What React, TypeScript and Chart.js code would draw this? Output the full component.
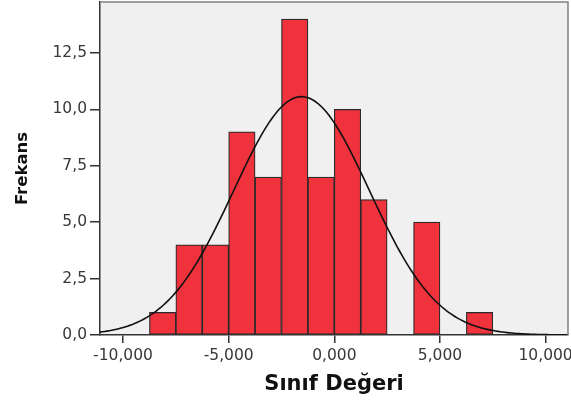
import React, { useEffect, useRef } from "react";
import { Chart, registerables } from "chart.js";

Chart.register(...registerables);

// Histogram bins (left edges) and frequencies
const binStarts = [-8.75, -7.5, -6.25, -5.0, -3.75, -2.5, -1.25, 0.0, 1.25, 2.5, 3.75, 5.0, 6.25];
const binWidth = 1.25;
const counts = [1, 4, 4, 9, 7, 14, 7, 10, 6, 0, 5, 0, 1];

// Normal curve fit parameters
const curveMean = -1.55;
const curveSd = 3.21;

// Axis ticks
const xTicks = [-10, -5, 0, 5, 10];
const yTicks = [0, 2.5, 5, 7.5, 10, 12.5];
const xMin = -11.09;
const xMax = 11.06;
const yMax = 14.76;

const xTitle = "Sınıf Değeri";
const yTitle = "Frekans";

const areaPlugin = {
  id: "areaPlugin",
  beforeDraw(chart: any) {
    const { ctx, chartArea: a } = chart;
    ctx.save();
    ctx.fillStyle = "#f0f0f0";
    ctx.fillRect(a.left, a.top, a.right - a.left, a.bottom - a.top);
    ctx.restore();
  },
  afterDraw(chart: any) {
    const { ctx, chartArea: a } = chart;
    ctx.save();
    ctx.strokeStyle = "#808080";
    ctx.lineWidth = 1.5;
    ctx.beginPath();
    ctx.moveTo(a.left, a.top);
    ctx.lineTo(a.right, a.top);
    ctx.lineTo(a.right, a.bottom);
    ctx.stroke();
    ctx.restore();
  },
};

export default function App() {
  const ref = useRef<HTMLCanvasElement>(null);
  useEffect(() => {
    if (!ref.current) return;
    const total = counts.reduce((s, v) => s + v, 0);
    const barData = binStarts
      .map((s, i) => ({ x: s + binWidth / 2, y: counts[i] }))
      .filter((d) => d.y > 0);
    const curvePts: { x: number; y: number }[] = [];
    const steps = 200;
    for (let i = 0; i <= steps; i++) {
      const x = xMin + ((xMax - xMin) * i) / steps;
      const z = (x - curveMean) / curveSd;
      const y = (total * binWidth) / (curveSd * Math.sqrt(2 * Math.PI)) * Math.exp(-0.5 * z * z);
      curvePts.push({ x, y });
    }
    const fmtX = (v: number) => v.toFixed(3).replace(".", ",");
    const fmtY = (v: number) => v.toFixed(1).replace(".", ",");
    const chart = new Chart(ref.current, {
      type: "bar",
      data: {
        datasets: [
          {
            type: "line",
            data: curvePts,
            borderColor: "#111111",
            borderWidth: 1.6,
            pointRadius: 0,
            fill: false,
            tension: 0,
            order: 1,
          } as any,
          {
            type: "bar",
            data: barData,
            backgroundColor: "#f0323c",
            borderColor: "#2a2a2a",
            borderWidth: 1.2,
            borderSkipped: false,
            barPercentage: 1,
            categoryPercentage: 1,
            order: 2,
          } as any,
        ],
      },
      options: {
        responsive: false,
        animation: false,
        layout: { padding: { top: 2, right: 3, left: 0, bottom: 0 } },
        plugins: { legend: { display: false }, tooltip: { enabled: false } },
        scales: {
          x: {
            type: "linear",
            min: xMin,
            max: xMax,
            offset: false,
            grid: { display: true, drawOnChartArea: false, drawTicks: true, tickLength: 8, color: "#333333", lineWidth: 1.5, offset: false },
            border: { display: true, color: "#333333", width: 1.5 },
            afterBuildTicks: (s: any) => {
              s.ticks = xTicks.map((v) => ({ value: v }));
            },
            afterFit: (s: any) => {
              s.height = 65;
              s.paddingLeft = 0;
              s.paddingRight = 0;
            },
            ticks: {
              callback: (v: any) => fmtX(Number(v)),
              color: "#383838",
              font: { family: "'DejaVu Sans'", size: 15.5 },
              maxRotation: 0,
              autoSkip: false,
              padding: 4,
            },
            title: {
              display: true,
              text: xTitle,
              color: "#111111",
              font: { family: "'DejaVu Sans'", size: 21, weight: "bold" },
              padding: { top: 0, bottom: 3 },
            },
          },
          y: {
            type: "linear",
            min: 0,
            max: yMax,
            grid: { display: true, drawOnChartArea: false, drawTicks: true, tickLength: 10, color: "#333333", lineWidth: 1.5 },
            border: { display: true, color: "#333333", width: 1.5 },
            afterBuildTicks: (s: any) => {
              s.ticks = yTicks.map((v) => ({ value: v }));
            },
            afterFit: (s: any) => {
              s.width = 100;
              s.paddingTop = 0;
              s.paddingBottom = 0;
            },
            ticks: {
              callback: (v: any) => fmtY(Number(v)),
              color: "#383838",
              font: { family: "'DejaVu Sans'", size: 15.5 },
              padding: 3,
            },
            title: {
              display: true,
              text: yTitle,
              color: "#111111",
              font: { family: "'DejaVu Sans'", size: 16.5, weight: "bold" },
              padding: { top: 13, bottom: 0 },
            },
          },
        },
      },
      plugins: [areaPlugin],
    });
    return () => chart.destroy();
  }, []);
  return (
    <div style={{ position: "fixed", left: 0, top: 0, width: 571, height: 400, background: "#fff" }}>
      <canvas ref={ref} width={571} height={400} />
    </div>
  );
}
